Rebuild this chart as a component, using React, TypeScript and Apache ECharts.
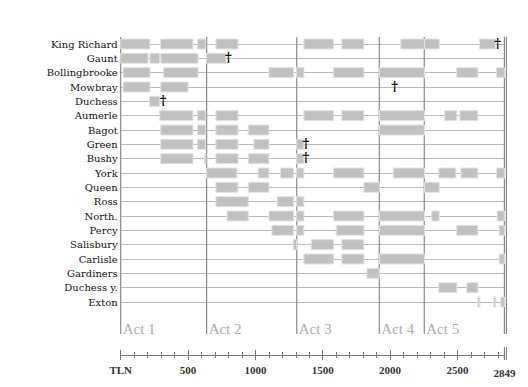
import React, { useEffect, useRef } from "react";
import * as echarts from "echarts";

// ---- data ----
const characters = [
  "King Richard", "Gaunt", "Bollingbrooke", "Mowbray", "Duchess", "Aumerle", "Bagot",
  "Green", "Bushy", "York", "Queen", "Ross", "North.", "Percy", "Salisbury", "Carlisle",
  "Gardiners", "Duchess y.", "Exton",
];

// stage presence per character, as [firstTLN, lastTLN]
const kingRichard = [[1, 217], [297, 537], [571, 631], [707, 871], [1360, 1581], [1642, 1806], [2080, 2256], [2256, 2365], [2664, 2783]];
const gaunt = [[1, 203], [217, 290], [297, 574], [638, 782]];
const bollingbrooke = [[18, 217], [319, 574], [1101, 1284], [1306, 1360], [1581, 1806], [1922, 2256], [2494, 2652], [2790, 2849]];
const mowbray = [[18, 217], [297, 500]];
const duchess = [[213, 290]];
const aumerle = [[290, 537], [571, 631], [707, 871], [1360, 1581], [1642, 1806], [1922, 2256], [2405, 2496], [2518, 2652]];
const bagot = [[297, 537], [571, 631], [707, 871], [947, 1101], [1922, 2256]];
const green = [[297, 537], [571, 631], [707, 871], [989, 1101], [1306, 1360]];
const bushy = [[297, 537], [622, 631], [707, 871], [947, 1101], [1306, 1360]];
const york = [[638, 863], [1021, 1101], [1187, 1284], [1306, 1360], [1581, 1806], [2023, 2256], [2362, 2489], [2526, 2652], [2790, 2849]];
const queen = [[707, 871], [947, 1101], [1806, 1920], [2256, 2365]];
const ross = [[707, 947], [1162, 1284], [1306, 1360]];
const north = [[790, 947], [1101, 1284], [1306, 1360], [1581, 1806], [1922, 2256], [2310, 2365], [2795, 2849]];
const percy = [[1123, 1284], [1306, 1360], [1600, 1806], [1922, 2256], [2494, 2652], [2810, 2849]];
const salisbury = [[1281, 1306], [1415, 1581], [1642, 1806]];
const carlisle = [[1360, 1581], [1642, 1806], [1922, 2256], [2810, 2849]];
const gardiners = [[1828, 1920]];
const duchessYork = [[2362, 2496], [2570, 2652]];
const exton = [[2652, 2667], [2771, 2785], [2822, 2849]];

const presence = [
  kingRichard, gaunt, bollingbrooke, mowbray, duchess, aumerle, bagot, green, bushy,
  york, queen, ross, north, percy, salisbury, carlisle, gardiners, duchessYork, exton,
];

// deaths: [character, TLN]
const deaths: [string, number][] = [
  ["King Richard", 2798], ["Gaunt", 800], ["Mowbray", 2034], ["Duchess", 316],
  ["Green", 1375], ["Bushy", 1375],
];

const actNames = ["Act 1", "Act 2", "Act 3", "Act 4", "Act 5"];
const actStarts = [0, 638, 1307, 1920, 2254];
const playEnd = 2849;

const tickValues = [0, 500, 1000, 1500, 2000, 2500, 2849];
const tickLabels = ["TLN", "500", "1000", "1500", "2000", "2500", "2849"];

const SERIF = "'DejaVu Serif', 'Liberation Serif', serif";

export default function App() {
  const ref = useRef<HTMLDivElement>(null);

  useEffect(() => {
    if (!ref.current) return;
    const chart = echarts.init(ref.current, null, { renderer: "svg" });

    const barData: number[][] = [];
    presence.forEach((segs, row) => segs.forEach(([s, e]) => barData.push([row, s, e])));
    const deathData = deaths.map(([name, t]) => [characters.indexOf(name), t]);
    const actData = actStarts.map((s, i) => [s, i]);

    const gridLeft = 120.7;
    const gridWidth = 383.7;

    const option: any = {
      animation: false,
      grid: [
        { left: gridLeft, width: gridWidth, top: 44, height: 258 },
        { left: gridLeft, width: gridWidth, top: 355, height: 0 },
        { left: gridLeft, width: gridWidth, top: 355, height: 0 },
      ],
      xAxis: [
        { gridIndex: 0, type: "value", min: 0, max: playEnd, show: false },
        {
          gridIndex: 1, type: "value", position: "bottom", min: 0, max: playEnd, interval: 100,
          axisLine: { show: true, lineStyle: { color: "#777", width: 1 } },
          axisTick: { show: true, length: 3, lineStyle: { color: "#777" } },
          splitLine: { show: false },
          axisLabel: {
            show: true, margin: 9, showMinLabel: true, showMaxLabel: true,
            fontFamily: "'Liberation Serif', serif", fontWeight: "bold", fontSize: 11, color: "#333",
            formatter: (v: number) => {
              const i = tickValues.indexOf(v);
              if (i < 0) return "";
              return v === playEnd ? "{end|" + tickLabels[i] + "}" : tickLabels[i];
            },
            rich: { end: { padding: [3, 0, 0, 0], fontFamily: "'Liberation Serif', serif", fontWeight: "bold", fontSize: 11, color: "#333" } },
          },
        },
        {
          gridIndex: 1, type: "value", position: "top", min: 0, max: playEnd, interval: 100,
          axisLine: { show: false }, axisLabel: { show: false }, splitLine: { show: false },
          axisTick: { show: true, length: 3, lineStyle: { color: "#777" } },
        },
        {
          gridIndex: 2, type: "value", position: "bottom", min: 0, max: playEnd, interval: 500,
          axisLine: { show: false }, axisLabel: { show: false }, splitLine: { show: false },
          axisTick: { show: true, length: 5, lineStyle: { color: "#777" } },
        },
        {
          gridIndex: 2, type: "value", position: "top", min: 0, max: playEnd, interval: 500,
          axisLine: { show: false }, axisLabel: { show: false }, splitLine: { show: false },
          axisTick: { show: true, length: 5, lineStyle: { color: "#777" } },
        },
      ],
      yAxis: [
        {
          gridIndex: 0, type: "category", data: characters, inverse: true, boundaryGap: false,
          axisLine: { show: false }, axisTick: { show: false },
          axisLabel: { margin: 3, fontFamily: SERIF, fontSize: 10, color: "#111", interval: 0 },
          splitLine: { show: true, interval: 0, lineStyle: { color: "#b9b9b9", width: 1 } },
        },
        { gridIndex: 1, type: "value", min: 0, max: 1, show: false },
        { gridIndex: 2, type: "value", min: 0, max: 1, show: false },
      ],
      series: [
        {
          type: "custom", xAxisIndex: 0, yAxisIndex: 0, clip: false, z: 3,
          encode: { x: 0, y: 1 },
          data: actData,
          renderItem: (params: any, api: any) => {
            const x = api.coord([api.value(0), 0])[0];
            const cs = params.coordSys;
            const i = api.value(1);
            return {
              type: "group",
              children: [
                { type: "line", shape: { x1: x, y1: cs.y - 7, x2: x, y2: cs.y + cs.height + 32 }, style: { stroke: "#8a8a8a", lineWidth: 1.2 } },
                { type: "text", style: { text: actNames[i], x: x + 2, y: cs.y + cs.height + 27, textAlign: "left", textVerticalAlign: "middle", fill: "#ababab", font: "15px 'Liberation Serif', serif" } },
              ],
            };
          },
        },
        {
          type: "custom", xAxisIndex: 0, yAxisIndex: 0, clip: false, z: 3,
          encode: { x: 0, y: 1 },
          data: [[playEnd, 0]],
          renderItem: (params: any, api: any) => {
            const x = api.coord([api.value(0), 0])[0];
            const cs = params.coordSys;
            return {
              type: "group",
              children: [
                { type: "line", shape: { x1: x, y1: cs.y - 7, x2: x, y2: cs.y + cs.height + 32 }, style: { stroke: "#8a8a8a", lineWidth: 1.2 } },
                { type: "line", shape: { x1: x + 2, y1: cs.y - 7, x2: x + 2, y2: cs.y + cs.height + 32 }, style: { stroke: "#8a8a8a", lineWidth: 1.2 } },
              ],
            };
          },
        },
        {
          type: "custom", xAxisIndex: 0, yAxisIndex: 0, clip: false, z: 4,
          encode: { x: [1, 2], y: 0 },
          data: barData,
          renderItem: (params: any, api: any) => {
            const row = api.value(0);
            const p0 = api.coord([api.value(1), row]);
            const p1 = api.coord([api.value(2), row]);
            return {
              type: "rect",
              shape: { x: p0[0], y: p0[1] - 5, width: Math.max(p1[0] - p0[0], 1.5), height: 10 },
              style: { fill: "#c1c1c1", stroke: "#e2e2e2", lineWidth: 1 },
            };
          },
        },
        {
          type: "custom", xAxisIndex: 0, yAxisIndex: 0, clip: false, z: 5,
          encode: { x: 1, y: 0 },
          data: deathData,
          renderItem: (params: any, api: any) => {
            const p = api.coord([api.value(1), api.value(0)]);
            return {
              type: "text",
              style: { text: "†", x: p[0], y: p[1] - 1, textAlign: "center", textVerticalAlign: "middle", fill: "#000", font: "bold 13px 'DejaVu Serif', serif" },
            };
          },
        },
        {
          type: "custom", xAxisIndex: 1, yAxisIndex: 1, clip: false, z: 5,
          encode: { x: 0, y: 1 },
          data: [[playEnd, 0]],
          renderItem: (params: any, api: any) => {
            const p = api.coord([api.value(0), 0]);
            return {
              type: "group",
              children: [
                { type: "line", shape: { x1: p[0], y1: p[1] - 8, x2: p[0], y2: p[1] + 5 }, style: { stroke: "#777", lineWidth: 1 } },
                { type: "line", shape: { x1: p[0] + 2, y1: p[1] - 8, x2: p[0] + 2, y2: p[1] + 5 }, style: { stroke: "#777", lineWidth: 1 } },
              ],
            };
          },
        },
      ],
    };

    chart.setOption(option);
    return () => chart.dispose();
  }, []);

  return <div ref={ref} style={{ position: "absolute", left: 0, top: 0, width: 528, height: 387, background: "#fff" }} />;
}
